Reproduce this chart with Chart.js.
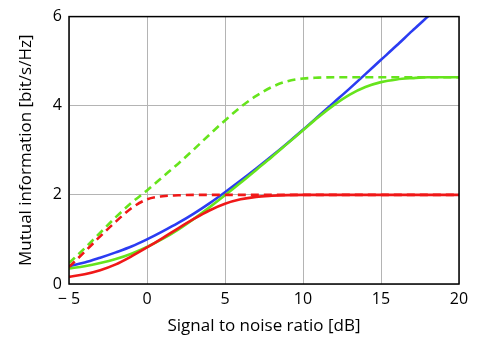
<!DOCTYPE html>
<html>
<head>
<meta charset="utf-8">
<script src="https://cdn.jsdelivr.net/npm/chart.js@4/dist/chart.umd.min.js"></script>
<style>
  html, body { margin: 0; padding: 0; background: #fff; }
  #wrap { width: 488px; height: 341px; }
</style>
</head>
<body>
<div id="wrap"><canvas id="chart"></canvas></div>
<script>
Chart.defaults.font.family = '"Open Sans", "Noto Sans", sans-serif';
Chart.defaults.color = '#000';

// SNR grid in dB
const snrDb = [-5, -4, -3, -2, -1, 0, 1, 2, 3, 4, 5, 6, 7, 8, 9, 10,
  11, 12, 13, 14, 15, 16, 17, 18, 19, 20];

// mutual information, bit/s/Hz
const shannon = [0.40, 0.48, 0.59, 0.71, 0.84, 1.00, 1.18, 1.37, 1.58, 1.81, 2.06,
  2.32, 2.59, 2.87, 3.16, 3.46, 3.77, 4.08, 4.39, 4.71, 5.03, 5.35, 5.68, 6.00, 6.33, 6.66];
const greenSolid = [0.35, 0.40, 0.47, 0.56, 0.68, 0.83, 1.01, 1.22, 1.46, 1.72, 1.99,
  2.27, 2.56, 2.85, 3.15, 3.45, 3.75, 4.02, 4.25, 4.42, 4.53, 4.59, 4.62, 4.64, 4.64, 4.64];
const greenDashed = [0.47, 0.80, 1.15, 1.50, 1.82, 2.10, 2.40, 2.70, 3.02, 3.35, 3.67,
  3.97, 4.22, 4.42, 4.55, 4.61, 4.63, 4.64, 4.64, 4.64, 4.64, 4.64, 4.64, 4.64, 4.64, 4.64];
const redSolid = [0.16, 0.22, 0.31, 0.44, 0.62, 0.82, 1.03, 1.25, 1.46, 1.65, 1.80,
  1.90, 1.955, 1.98, 1.995, 2.00, 2.00, 2.00, 2.00, 2.00, 2.00, 2.00, 2.00, 2.00, 2.00, 2.00];
const redDashed = [0.38, 0.72, 1.07, 1.40, 1.70, 1.90, 1.97, 1.99, 2.00, 2.00, 2.00,
  2.00, 2.00, 2.00, 2.00, 2.00, 2.00, 2.00, 2.00, 2.00, 2.00, 2.00, 2.00, 2.00, 2.00, 2.00];

const xTicks = [-5, 0, 5, 10, 15, 20];
const yTicks = [0, 2, 4, 6];

const BLUE = '#2b3cf2';
const GREEN = '#66e41c';
const RED = '#f01818';

const pts = (ys) => snrDb.map((x, i) => ({ x: x, y: ys[i] }));

const line = (ys, color, dashed) => ({
  data: pts(ys),
  borderColor: color,
  borderWidth: 2.6,
  borderDash: dashed ? [8, 5] : [],
  pointRadius: 0,
  cubicInterpolationMode: 'monotone',
  fill: false,
});

// black box round the plot area
const frame = {
  id: 'frame',
  afterDraw(chart) {
    const { ctx, chartArea: a } = chart;
    ctx.save();
    ctx.strokeStyle = '#000';
    ctx.lineWidth = 1.5;
    ctx.strokeRect(a.left, a.top, a.right - a.left, a.bottom - a.top);
    ctx.restore();
  }
};

new Chart(document.getElementById('chart'), {
  type: 'line',
  plugins: [frame],
  data: {
    datasets: [
      line(redDashed, RED, true),
      line(redSolid, RED, false),
      line(greenDashed, GREEN, true),
      line(greenSolid, GREEN, false),
      line(shannon, BLUE, false),
    ],
  },
  options: {
    responsive: true,
    maintainAspectRatio: false,
    animation: false,
    layout: { padding: { left: 0, top: 13, right: 29, bottom: 0 } },
    plugins: {
      legend: { display: false },
      tooltip: { enabled: false },
    },
    scales: {
      x: {
        type: 'linear',
        min: -5,
        max: 20,
        afterBuildTicks: (scale) => { scale.ticks = xTicks.map(v => ({ value: v })); },
        afterFit: (scale) => { scale.height = 57; },
        ticks: {
          padding: 6,
          font: { size: 16 },
          maxRotation: 0,
          callback: (v) => v < 0 ? '\u2212 ' + Math.abs(v) : String(v),
        },
        grid: { color: '#b4b4b4', lineWidth: 1, drawTicks: false },
        border: { display: false },
        title: {
          display: true,
          text: 'Signal to noise ratio [dB]',
          font: { size: 17 },
          padding: { top: 0, bottom: 5 },
        },
      },
      y: {
        min: 0,
        max: 6,
        afterBuildTicks: (scale) => { scale.ticks = yTicks.map(v => ({ value: v })); },
        afterFit: (scale) => { scale.width = 69; },
        ticks: {
          padding: 7,
          font: { size: 16 },
        },
        grid: { color: '#b4b4b4', lineWidth: 1, drawTicks: false },
        border: { display: false },
        title: {
          display: true,
          text: 'Mutual information [bit/s/Hz]',
          font: { size: 17 },
          padding: { top: 16, bottom: 0 },
        },
      },
    },
  },
});
</script>
</body>
</html>
